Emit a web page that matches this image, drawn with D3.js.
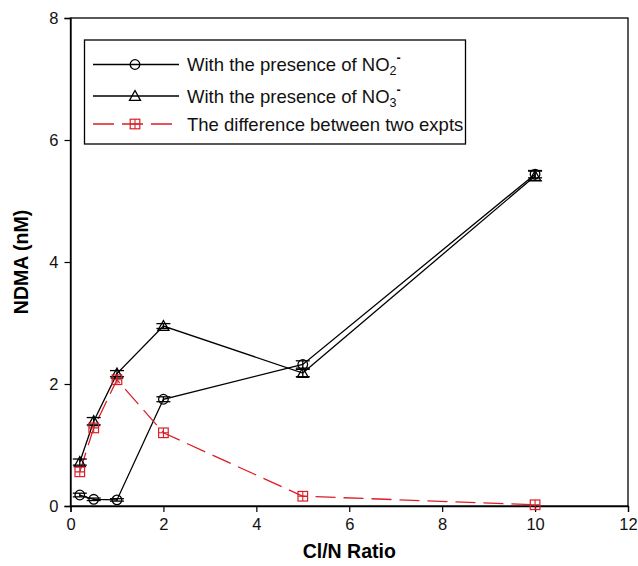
<!DOCTYPE html>
<html>
<head>
<meta charset="utf-8">
<script src="https://cdn.jsdelivr.net/npm/d3@7"></script>
<style>
  html, body { margin: 0; padding: 0; background: #fff; }
  svg { display: block; font-family: "Liberation Sans", Arial, sans-serif; }
</style>
</head>
<body>
<svg id="chart" width="638" height="566"></svg>
<script>
// ---- data ----
const ratio = [0.2, 0.5, 1, 2, 5, 10];
const no2 = [0.18, 0.11, 0.10, 1.75, 2.32, 5.44];
const no2Err = [0.03, 0.02, 0.02, 0.04, 0.06, 0.06];
const no3 = [0.72, 1.39, 2.17, 2.95, 2.18, 5.41];
const no3Err = [0.05, 0.06, 0.05, 0.04, 0.06, 0.08];
const diff = [0.56, 1.28, 2.07, 1.20, 0.16, 0.02];
const xTicks = [0, 2, 4, 6, 8, 10, 12];
const yTicks = [0, 2, 4, 6, 8];
const legendLabels = ["With the presence of NO", "With the presence of NO", "The difference between two expts"];
const legendSubs = ["2", "3", null];

const red = "#dc1e26";
const svg = d3.select("#chart");
const L = 70.5, R = 628, T = 18, B = 506;
const x = d3.scaleLinear().domain([0, 12]).range([L, R]);
const y = d3.scaleLinear().domain([0, 8]).range([B, T]);

// frame
svg.append("rect").attr("x", L).attr("y", T).attr("width", R - L).attr("height", B - T)
  .attr("fill", "none").attr("stroke", "#000").attr("stroke-width", 1.3);

// axes
const xAxis = svg.append("g").attr("transform", `translate(0,${B})`)
  .call(d3.axisBottom(x).tickValues(xTicks).tickSize(6).tickPadding(6).tickFormat(d3.format("d")));
const yAxis = svg.append("g").attr("transform", `translate(${L},0)`)
  .call(d3.axisLeft(y).tickValues(yTicks).tickSize(6).tickPadding(6).tickFormat(d3.format("d")));
[xAxis, yAxis].forEach(a => {
  a.select(".domain").attr("stroke-width", 1.3);
  a.selectAll(".tick line").attr("stroke-width", 1.2);
  a.selectAll("text").attr("font-size", 16.5).attr("fill", "#111")
    .attr("font-family", "'Liberation Sans', Arial, sans-serif");
});

// axis titles
svg.append("text").attr("x", (L + R) / 2).attr("y", 558).attr("text-anchor", "middle")
  .attr("font-size", 19.5).attr("font-weight", "bold").text("Cl/N Ratio");
svg.append("text").attr("transform", `translate(28,${(T + B) / 2}) rotate(-90)`)
  .attr("text-anchor", "middle").attr("font-size", 19.5).attr("font-weight", "bold").text("NDMA (nM)");

const line = d3.line().x(d => x(d[0])).y(d => y(d[1]));
const pts = arr => ratio.map((r, i) => [r, arr[i]]);

// lines
svg.append("path").attr("d", line(pts(no2))).attr("fill", "none").attr("stroke", "#000").attr("stroke-width", 1.3);
svg.append("path").attr("d", line(pts(no3))).attr("fill", "none").attr("stroke", "#000").attr("stroke-width", 1.3);
svg.append("path").attr("d", line(pts(diff))).attr("fill", "none").attr("stroke", red)
  .attr("stroke-width", 1.3).attr("stroke-dasharray", "20,8");

// error bars
function errBars(vals, errs) {
  const g = svg.append("g").attr("stroke", "#000").attr("stroke-width", 1.3);
  ratio.forEach((r, i) => {
    const cx = x(r), y1 = y(vals[i] + errs[i]), y2 = y(vals[i] - errs[i]);
    g.append("line").attr("x1", cx).attr("x2", cx).attr("y1", y1).attr("y2", y2);
    g.append("line").attr("x1", cx - 7).attr("x2", cx + 7).attr("y1", y1).attr("y2", y1);
    g.append("line").attr("x1", cx - 7).attr("x2", cx + 7).attr("y1", y2).attr("y2", y2);
  });
}
errBars(no2, no2Err);
errBars(no3, no3Err);

// marker drawing
function circle(g, cx, cy) {
  g.append("circle").attr("cx", cx).attr("cy", cy).attr("r", 4.8)
    .attr("fill", "none").attr("stroke", "#000").attr("stroke-width", 1.3);
}
function triangle(g, cx, cy) {
  const s = 5.5;
  g.append("path").attr("d", `M${cx},${cy - s}L${cx + s},${cy + s * 0.8}L${cx - s},${cy + s * 0.8}Z`)
    .attr("fill", "none").attr("stroke", "#000").attr("stroke-width", 1.3);
}
function square(g, cx, cy) {
  const s = 4.8;
  g.append("rect").attr("x", cx - s).attr("y", cy - s).attr("width", 2 * s).attr("height", 2 * s)
    .attr("fill", "none").attr("stroke", red).attr("stroke-width", 1.2);
  g.append("path").attr("d", `M${cx - s},${cy}H${cx + s}M${cx},${cy - s}V${cy + s}`)
    .attr("stroke", red).attr("stroke-width", 1.1);
}
const mg = svg.append("g");
ratio.forEach((r, i) => circle(mg, x(r), y(no2[i])));
ratio.forEach((r, i) => triangle(mg, x(r), y(no3[i])));
ratio.forEach((r, i) => square(mg, x(r), y(diff[i])));

// legend
const lg = svg.append("g");
lg.append("rect").attr("x", 84.5).attr("y", 40).attr("width", 381).attr("height", 104)
  .attr("fill", "#fff").attr("stroke", "#000").attr("stroke-width", 1.3);
const rowY = [64.5, 96, 124];
const markers = [circle, triangle, square];
rowY.forEach((ry, i) => {
  const ln = lg.append("line").attr("x1", 93).attr("x2", 179).attr("y1", ry).attr("y2", ry)
    .attr("stroke", i === 2 ? red : "#000").attr("stroke-width", 1.3);
  if (i === 2) ln.attr("stroke-dasharray", "21,8");
  markers[i](lg, 135, ry);
  const t = lg.append("text").attr("x", 187).attr("y", ry + 6.5).attr("font-size", 18.5).attr("fill", "#111");
  t.append("tspan").text(legendLabels[i]);
  if (legendSubs[i]) {
    t.append("tspan").attr("font-size", 12.5).attr("dy", 4).text(legendSubs[i]);
    t.append("tspan").attr("font-size", 12.5).attr("dy", -13).attr("font-weight", "bold").text("-");
  }
});
</script>
</body>
</html>
